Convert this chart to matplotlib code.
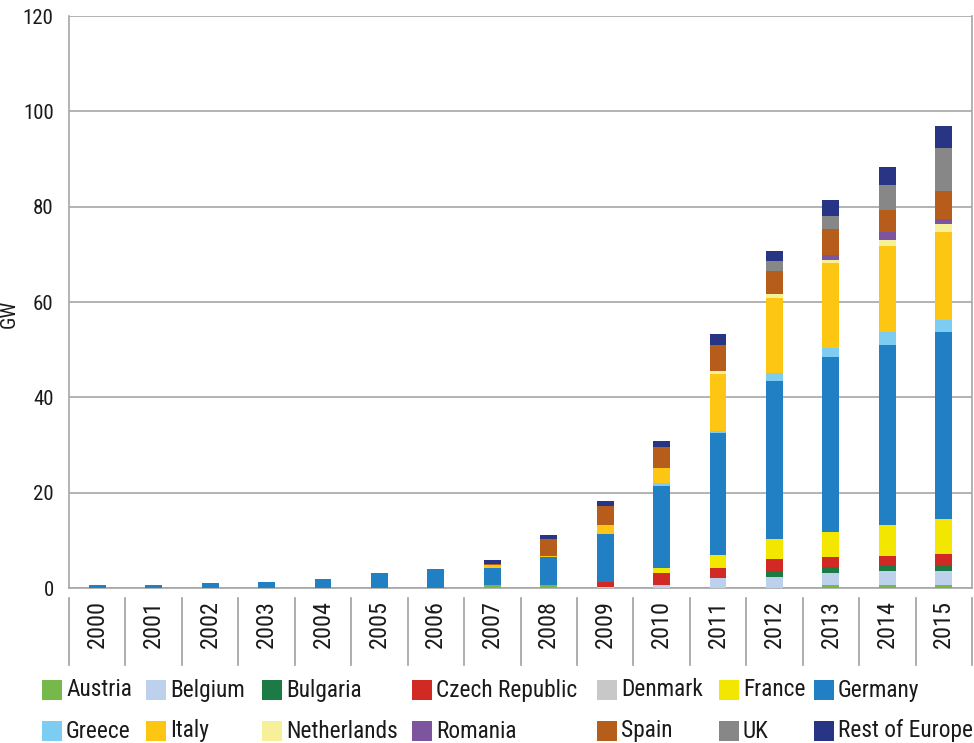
import matplotlib
matplotlib.use("Agg")
import matplotlib.pyplot as plt
from matplotlib import font_manager
from matplotlib.patches import Rectangle
import matplotlib.transforms as mtransforms
import numpy as np

# ---------------- data ----------------
years = [str(y) for y in range(2000, 2016)]
countries = ["Austria", "Belgium", "Bulgaria", "Czech Republic", "Denmark", "France",
             "Germany", "Greece", "Italy", "Netherlands", "Romania", "Spain", "UK",
             "Rest of Europe"]
colors = ["#77B84A", "#BDD1EC", "#1C7A45", "#D12A24", "#C8C8C8", "#F3E600",
          "#217FC4", "#7DCDF3", "#FCC612", "#F7F09A", "#7D559E", "#B75D1B",
          "#878787", "#283584"]

austria     = [0, 0, 0, 0, 0, 0, 0, 0.6, 0.6, 0, 0, 0, 0, 0.55, 0.55, 0.55]
belgium     = [0, 0, 0, 0, 0, 0, 0, 0, 0, 0.2, 0.55, 2.0, 2.4, 2.65, 3.05, 3.05]
bulgaria    = [0, 0, 0, 0, 0, 0, 0, 0, 0, 0, 0, 0, 1.25, 1.25, 1.25, 1.25]
czech       = [0, 0, 0, 0, 0, 0, 0, 0, 0, 1.0, 2.5, 2.1, 2.4, 2.1, 1.9, 2.3]
denmark     = [0, 0, 0, 0, 0, 0, 0, 0, 0, 0, 0, 0, 0, 0, 0, 0]
france      = [0, 0, 0, 0, 0, 0, 0, 0, 0, 0, 1.25, 2.9, 4.3, 5.1, 6.5, 7.3]
germany     = [0.7, 0.7, 1.0, 1.3, 1.8, 3.2, 4.0, 3.5, 5.8, 10.2, 17.1, 25.5, 33.0, 36.9, 37.8, 39.3]
greece      = [0, 0, 0, 0, 0, 0, 0, 0, 0, 0, 0.6, 0.5, 1.7, 1.9, 2.7, 2.5]
italy       = [0, 0, 0, 0, 0, 0, 0, 0.75, 0.4, 1.9, 3.1, 11.8, 15.7, 17.8, 18.0, 18.4]
netherlands = [0, 0, 0, 0, 0, 0, 0, 0, 0, 0, 0, 0.8, 1.0, 0.6, 1.25, 1.7]
romania     = [0, 0, 0, 0, 0, 0, 0, 0, 0, 0, 0, 0, 0, 1.1, 1.7, 1.05]
spain       = [0, 0, 0, 0, 0, 0, 0, 0.2, 3.55, 4.0, 4.4, 5.4, 4.8, 5.4, 4.6, 5.85]
uk          = [0, 0, 0, 0, 0, 0, 0, 0, 0, 0, 0, 0, 2.1, 2.7, 5.2, 9.0]
rest        = [0, 0, 0, 0, 0, 0, 0, 0.75, 0.85, 0.85, 1.25, 2.3, 2.1, 3.3, 3.8, 4.6]

series = [austria, belgium, bulgaria, czech, denmark, france, germany, greece,
          italy, netherlands, romania, spain, uk, rest]

y_ticks = [0, 20, 40, 60, 80, 100, 120]
y_label = "GW"

# ---------------- fonts: prefer a condensed sans ----------------
def pick_condensed():
    entries = font_manager.fontManager.ttflist
    prefs = ["Liberation Sans Narrow", "Roboto Condensed", "Noto Sans Condensed",
             "DejaVu Sans Condensed", "Open Sans Condensed", "Noto Sans", "DejaVu Sans",
             "Open Sans", "Roboto", "Inter"]
    for p in prefs:
        for f in entries:
            if f.name == p and f.style == "normal" and f.weight in (400, "normal", "regular", "book"):
                st = str(f.stretch)
                if "Narrow" in p or "Condensed" in p:
                    return f
                if "condensed" in st and "extra" not in st and "ultra" not in st:
                    return f
    return None

ent = pick_condensed()
if ent is not None:
    fp_base = dict(fname=ent.fname)
    condensed = True
else:
    fp_base = dict(family=["Liberation Sans", "DejaVu Sans"])
    condensed = False

def FP(size):
    return font_manager.FontProperties(size=size, **fp_base)

scale = 1.0 if condensed else 0.82
sz_tick = 15 * scale
sz_year = 17.5 * scale
sz_leg = 16.8 * scale
sz_lab = 15 * scale

W, H = 974, 743
fig = plt.figure(figsize=(W / 100, H / 100), dpi=100)
ax_l, ax_r, ax_t, ax_b = 69, 972, 16, 588
ax = fig.add_axes([ax_l / W, 1 - ax_b / H, (ax_r - ax_l) / W, (ax_b - ax_t) / H])

x = np.arange(len(years))
bottom = np.zeros(len(years))
for vals, col in zip(series, colors):
    v = np.array(vals, dtype=float)
    ax.bar(x, v, width=0.3, bottom=bottom, color=col, linewidth=0, zorder=3)
    bottom += v

grid_col = "#a6a6a6"
ax.set_ylim(0, 120)
ax.set_xlim(-0.5, len(years) - 0.5)
ax.set_yticks(y_ticks)
ax.set_yticklabels([str(t) for t in y_ticks], fontproperties=FP(sz_tick), color="#1a1a1a")
ax.yaxis.grid(True, color=grid_col, linewidth=1.2, zorder=0)
ax.tick_params(axis="y", length=0, pad=11)
for s in ["left", "bottom", "right", "top"]:
    ax.spines[s].set_color(grid_col)
    ax.spines[s].set_linewidth(1.2)
ax.spines["top"].set_visible(False)

ax.set_xticks(x)
ax.set_xticklabels(years, rotation=90, fontproperties=FP(sz_year), color="#1a1a1a",
                   va="top", ha="center")
ax.tick_params(axis="x", length=0, pad=9)

# category separators below axis
trans = mtransforms.blended_transform_factory(ax.transData, ax.transAxes)
hpx = ax_b - ax_t
for b in np.arange(-0.5, len(years), 1.0):
    ax.plot([b, b], [-10 / hpx, -77 / hpx], transform=trans,
            color="#a0a0a0", lw=1.2, clip_on=False)

ax.set_ylabel(y_label, fontproperties=FP(sz_lab), color="#1a1a1a")
ax.yaxis.set_label_coords(-(ax_l - 19) / (ax_r - ax_l), (ax_b - 314) / hpx)

# ---------------- legend ----------------
lg = fig.add_axes([0, 0, 1, 1], facecolor="none")
lg.set_xlim(0, W)
lg.set_ylim(H, 0)
lg.axis("off")
col_x = [42, 146, 262, 412, 597, 719, 814]
row_y = [690, 731]
for i, (name, col) in enumerate(zip(countries, colors)):
    r, c = divmod(i, 7)
    cx, cy = col_x[c], row_y[r]
    lg.add_patch(Rectangle((cx, cy - 10), 20, 20, facecolor=col, edgecolor="none"))
    lg.text(cx + 24, cy, name, fontproperties=FP(sz_leg), va="center", ha="left",
            color="#1a1a1a")

fig.savefig("out.png", dpi=100)
